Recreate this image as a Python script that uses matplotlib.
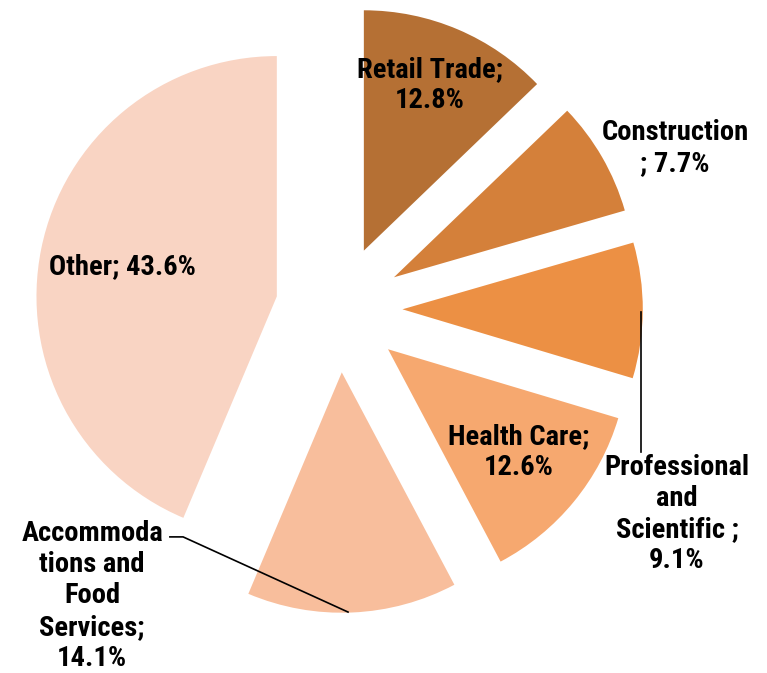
import matplotlib.pyplot as plt

plt.rcParams['font.family'] = ['Liberation Sans Narrow', 'Roboto Condensed', 'Liberation Sans', 'DejaVu Sans']

sectors = ['Retail Trade', 'Construction', 'Professional and Scientific',
           'Health Care', 'Accommodations and Food Services', 'Other']
shares = [12.8, 7.7, 9.1, 12.6, 14.1, 43.6]
colors = ['#B57034', '#D4803A', '#EC9044', '#F6A86F', '#F8BE9C', '#F9D4C3']
label_texts = ['Retail Trade;\n12.8%', 'Construction\n; 7.7%',
               'Professional\nand\nScientific ;\n9.1%', 'Health Care;\n12.6%',
               'Accommoda\ntions and\nFood\nServices;\n14.1%', 'Other; 43.6%']

# label anchor spots (data units, pie radius ~ 1)
label_pos = [(0.373, 0.918), (1.377, 0.660), (1.385, -0.840),
             (0.738, -0.586), (-1.012, -1.176), (-0.889, 0.172)]


def main():
    fig = plt.figure(figsize=(7.67, 6.73), dpi=100)
    ax = fig.add_axes([0, 0, 1, 1])
    ax.pie(shares, colors=colors, startangle=90, counterclock=False,
           explode=[0.26] * len(shares), radius=0.985,
           wedgeprops=dict(linewidth=0))

    for txt, (x, y) in zip(label_texts, label_pos):
        ax.text(x, y, txt, ha='center', va='center', fontsize=20.5,
                fontweight='bold', linespacing=1.2, color='black')

    # leader lines
    ax.plot([1.238, 1.238], [-0.012, -0.586], color='black', lw=1.2)
    ax.plot([-0.693, -0.639, 0.037], [-0.934, -0.934, -1.242], color='black', lw=1.2)

    ax.set_xlim(-339 / 244, (767 - 339) / 244)
    ax.set_ylim(-(673 - 309) / 244, 309 / 244)
    ax.set_aspect('equal')
    ax.axis('off')
    fig.savefig('out.png', dpi=100)


if __name__ == "__main__":
    main()
